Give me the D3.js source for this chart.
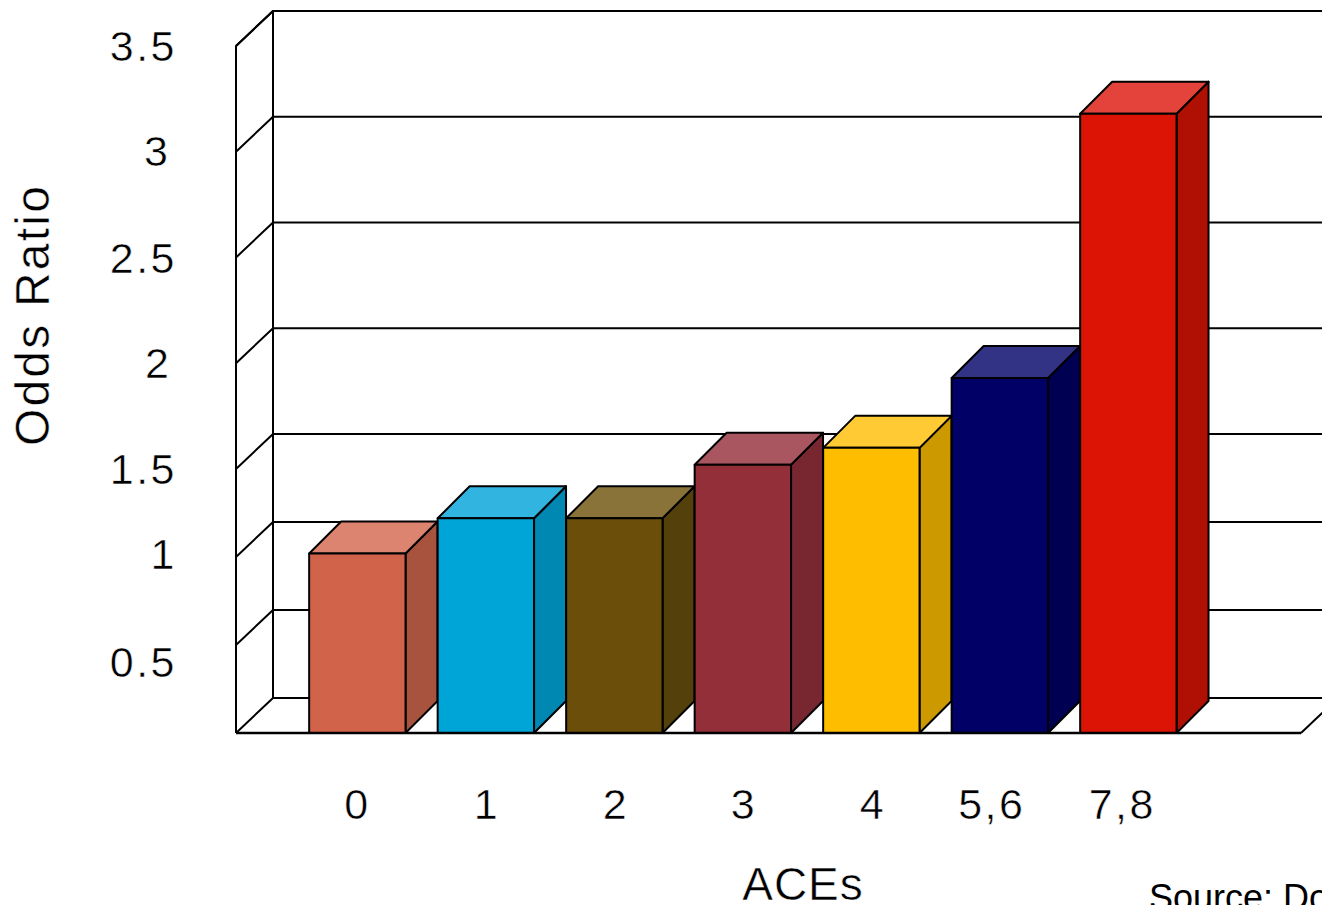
<!DOCTYPE html>
<html><head><meta charset="utf-8">
<script src="https://cdn.jsdelivr.net/npm/d3@7/dist/d3.min.js"></script>
<style>html,body{margin:0;padding:0;background:#fff;overflow:hidden}svg{display:block}text{font-family:"Liberation Sans",Arial,sans-serif;fill:#000}.thin{stroke:#fff;stroke-width:.5px}</style>
</head><body><svg id="c" width="1322" height="905"></svg>
<script>
const categories=["0","1","2","3","4","5,6","7,8"];
const oddsRatio=[1.02,1.22,1.22,1.52,1.6,1.93,3.18];
const yTicks=[0,0.5,1,1.5,2,2.5,3,3.5];
const yTickLabels=["","0.5","1","1.5","2","2.5","3","3.5"];
const frontColors=["#d0634a","#00a5d8","#6a4e0a","#922f39","#ffbd00","#000066","#dc1405"];
const sideColors=["#a8533d","#0087b2","#54400a","#78262f","#cc9900","#000052","#b01004"];
const topColors=["#dc8470","#32b4e0","#8a7338","#a95660","#ffca33","#333385","#e3433a"];
const yLabelDx=[0,0,0,0,-5.5,0,-6.5,0], yLabelDy=[0,16,-4,-1,-1,0,-2,-1];
const xLabelDx=[0,1,1.5,1,1.5,-8,-6];

const svg=d3.select("#c");
const y=d3.scaleLinear().domain([0,1.5,3.5]).range([733,469,46]);
const x=d3.scaleBand().domain(categories).range([293.1,1192.6]).paddingInner(.25).paddingOuter(.125);
const wall={x0:236,x1:1301,dx:37,dy:-35}, bar={dx:32,dy:-32};
const line=d3.line();
const g=svg.append("g").attr("fill","none").attr("stroke","#000").attr("stroke-width",2).attr("stroke-linejoin","round");

// walls and grid
g.append("path").attr("d",line([[wall.x0,y(0)],[wall.x0,y(3.5)],[wall.x0+wall.dx,y(3.5)+wall.dy],[1330+wall.dx,y(3.5)+wall.dy]]));
g.append("path").attr("d",line([[wall.x0+wall.dx,y(3.5)+wall.dy],[wall.x0+wall.dx,y(0)+wall.dy]]));
yTicks.forEach(t=>{
  g.append("path").attr("d",line([[wall.x0,y(t)],[wall.x0+wall.dx,y(t)+wall.dy],[wall.x1+wall.dx,y(t)+wall.dy]]));
});
g.append("path").attr("d",line([[wall.x1,y(0)],[wall.x1+wall.dx,y(0)+wall.dy]]));

// bars
categories.forEach((c,i)=>{
  const l=x(c),r=l+x.bandwidth(),t=y(oddsRatio[i]),b=y(0);
  const s=g.append("g");
  s.append("path").attr("fill",sideColors[i]).attr("d",line([[r,b],[r,t],[r+bar.dx,t+bar.dy],[r+bar.dx,b+bar.dy]])+"Z");
  s.append("path").attr("fill",topColors[i]).attr("d",line([[l,t],[l+bar.dx,t+bar.dy],[r+bar.dx,t+bar.dy],[r,t]])+"Z");
  s.append("path").attr("fill",frontColors[i]).attr("d",line([[l,b],[l,t],[r,t],[r,b]])+"Z");
});
g.append("path").attr("d",line([[wall.x0,y(0)],[wall.x1,y(0)]])).attr("stroke-width",2.4);

// axes
const yAxis=svg.append("g").attr("transform","translate(177,0)").call(
  d3.axisLeft(y).tickValues(yTicks).tickSize(0).tickPadding(0).tickFormat((d,i)=>yTickLabels[i]));
yAxis.select(".domain").remove();
yAxis.selectAll("text").attr("class","thin").attr("font-size",43).attr("font-family","Liberation Sans").style("letter-spacing","2.5px")
  .attr("dx",(d,i)=>yLabelDx[i]).attr("y",(d,i)=>yLabelDy[i]).attr("dy","0.36em");
const xAxis=svg.append("g").attr("transform","translate(0,788)").call(
  d3.axisBottom(x).tickSize(0).tickPadding(0));
xAxis.select(".domain").remove();
xAxis.selectAll("text").attr("class","thin").attr("font-size",43).attr("font-family","Liberation Sans").style("letter-spacing","2.5px")
  .attr("dx",(d,i)=>xLabelDx[i]).attr("dy",".71em");

svg.append("text").attr("class","thin").attr("transform","translate(49,315) rotate(-90)").attr("text-anchor","middle")
  .attr("font-size",48).style("letter-spacing","2.2px").text("Odds Ratio");
svg.append("text").attr("class","thin").attr("x",803).attr("y",900).attr("text-anchor","middle")
  .attr("font-size",46).style("letter-spacing","1px").text("ACEs");
svg.append("text").attr("x",1149).attr("y",910).attr("font-size",36).text("Source: Do");
</script></body></html>
